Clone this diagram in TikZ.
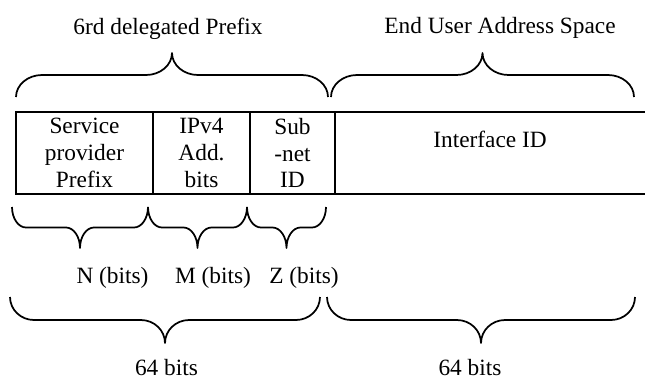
\documentclass[tikz,border=0pt]{standalone}
\usepackage{fontspec}
\setmainfont{Liberation Serif}
% curly brace: from x, to x, y of the ends, rise to the tip (negative is up), width of the bends
\newcommand{\curl}[5]{%
  \draw[curly] (#1,#3) .. controls (#1,{#3+0.275*#4}) and ({#1+0.45*#5},{#3+#4/2}) .. ({#1+#5},{#3+#4/2})
    -- ({(#1+#2)/2-#5},{#3+#4/2}) .. controls ({(#1+#2)/2-0.45*#5},{#3+#4/2}) and ({(#1+#2)/2},{#3+0.725*#4}) .. ({(#1+#2)/2},{#3+#4})
    .. controls ({(#1+#2)/2},{#3+0.725*#4}) and ({(#1+#2)/2+0.45*#5},{#3+#4/2}) .. ({(#1+#2)/2+#5},{#3+#4/2})
    -- ({#2-#5},{#3+#4/2}) .. controls ({#2-0.45*#5},{#3+#4/2}) and (#2,{#3+0.275*#4}) .. (#2,#3);}
\begin{document}
\begin{tikzpicture}[x=0.75pt,y=-0.75pt,
  field/.style={draw,line width=1.6pt,minimum height=61.5pt,inner sep=0pt,align=center,font=\fontsize{17.5}{20}\selectfont},
  lbl/.style={anchor=base,inner sep=0pt,font=\fontsize{17.5}{20}\selectfont},
  curly/.style={line width=1.3pt,line join=round}]
\useasboundingbox (0,0) rectangle (645,380);

% address fields
\node[field,minimum width=102.75pt] (sp) at (84.5,153) {Service\\provider\\Prefix};
\node[field,minimum width=72.75pt] (v4) at (201.5,153) {IPv4\\Add.\\bits};
\node[field,minimum width=63.75pt] (sn) at (292.5,153) {Sub\\-net\\ID};
\node[field,minimum width=234pt] (iid) at (491,153) {};
\node[lbl] (iidtxt) at (490,147) {Interface ID};

% upper braces
\curl{16}{328}{97}{-44}{26}
\curl{331}{634}{97}{-44}{26}
\node[lbl] (pfx) at (168,34) {6rd delegated Prefix};
\node[lbl] (eu) at (500,33) {End User Address Space};

% field widths
\curl{12}{148}{207}{41}{14}
\curl{148}{247}{207}{41}{14}
\curl{247}{326}{207}{41}{14}
\node[lbl] (nb) at (112.5,283) {N (bits)};
\node[lbl] (mb) at (213,283) {M (bits)};
\node[lbl] (zb) at (304,283) {Z (bits)};

% 64 + 64
\curl{10}{320}{297}{46}{24}
\curl{327}{635}{297}{46}{24}
\node[lbl] (hi) at (166.5,375) {64 bits};
\node[lbl] (lo) at (470,375) {64 bits};
\end{tikzpicture}
\end{document}
